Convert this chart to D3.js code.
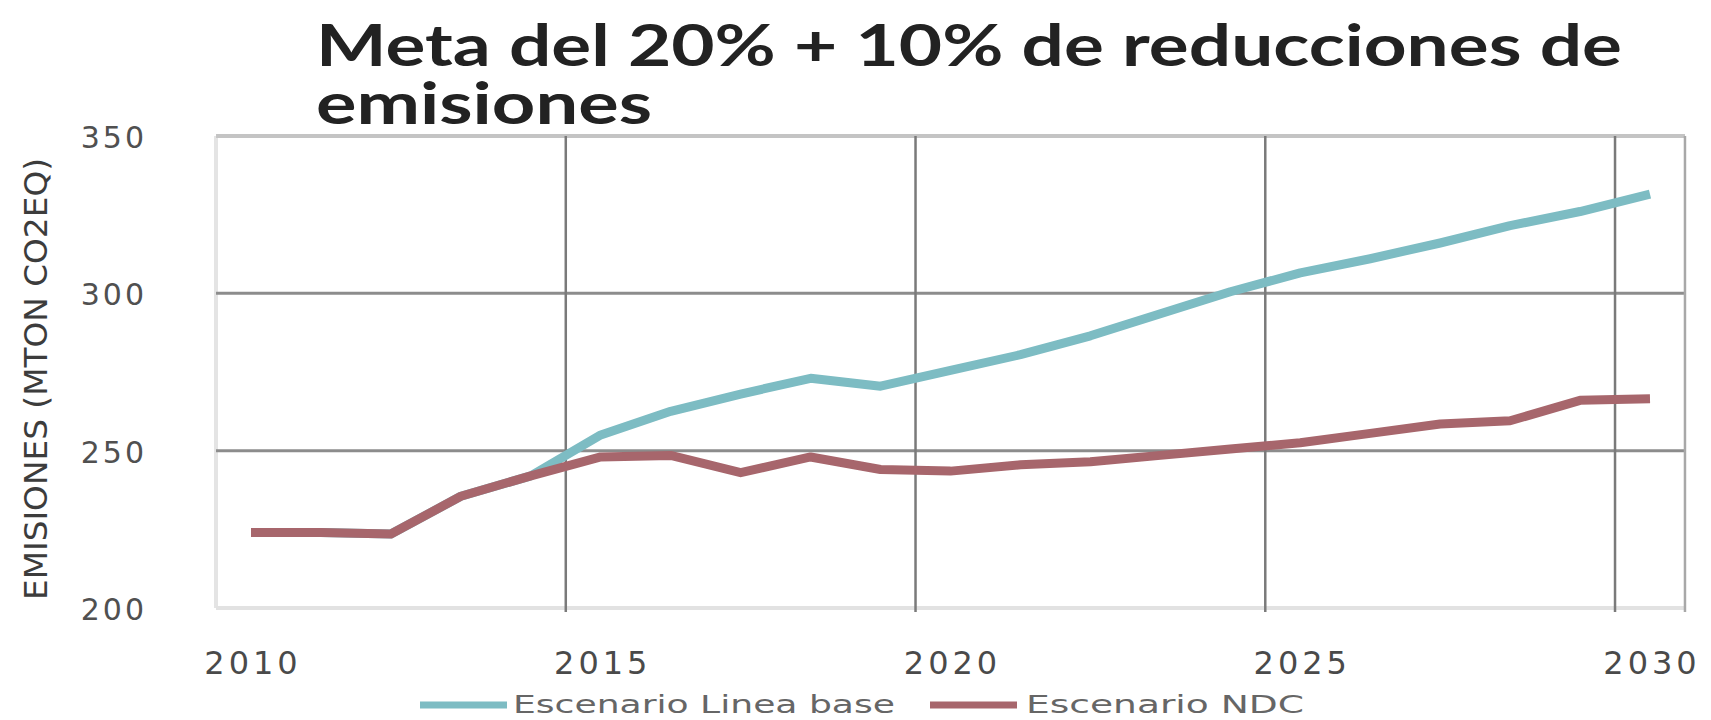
<!DOCTYPE html>
<html>
<head>
<meta charset="utf-8">
<script src="https://cdnjs.cloudflare.com/ajax/libs/d3/7.8.5/d3.min.js"></script>
<style>
  body { margin: 0; background: #fff; }
  text { font-family: "DejaVu Sans", sans-serif; }
</style>
</head>
<body>
<svg id="chart" width="1711" height="720"></svg>
<script>
// years on the category axis
var years = d3.range(2010, 2031);
// baseline scenario, Mton CO2eq
var lineaBase = [224, 224, 223.5, 235.5, 242, 255, 262.5, 268, 273, 270.5, 275.5, 280.5, 286.5, 293.5, 300.5, 306.5, 311, 316, 321.5, 326, 331.5];
// NDC scenario, Mton CO2eq
var ndc = [224, 224, 223.5, 235.5, 242, 248, 248.5, 243, 248, 244, 243.5, 245.5, 246.5, 248.5, 250.5, 252.5, 255.5, 258.5, 259.5, 266, 266.5];
// tick labels
var yTicks = [200, 250, 300, 350];
var xTicks = [2010, 2015, 2020, 2025, 2030];
var seriesNames = ["Escenario Linea base", "Escenario NDC"];

var svg = d3.select("#chart");
svg.append("rect").attr("width", 1711).attr("height", 720).attr("fill", "#fff");

// scales: one point per year, gridlines sit between categories
var x = d3.scalePoint().domain(years).range([251, 1650]);
var step = x.step();
var y = d3.scaleLinear().domain([200, 350]).range([608, 136]);
var left = x(2010) - step / 2, right = x(2030) + step / 2;

var grid = svg.append("g").attr("class", "grid");

// plot frame, light grey on the left/bottom/top
grid.append("line").attr("x1", left).attr("x2", left).attr("y1", y(350)).attr("y2", y(200))
    .attr("stroke", "#e4e4e4").attr("stroke-width", 4);
grid.append("line").attr("x1", left).attr("x2", right).attr("y1", y(200)).attr("y2", y(200))
    .attr("stroke", "#e2e2e2").attr("stroke-width", 4);
grid.append("line").attr("x1", left).attr("x2", right).attr("y1", y(350)).attr("y2", y(350))
    .attr("stroke", "#c4c4c4").attr("stroke-width", 4);

// horizontal gridlines
grid.selectAll("line.h").data([250, 300]).enter().append("line")
    .attr("class", "h")
    .attr("x1", left).attr("x2", right)
    .attr("y1", function(d){ return y(d); }).attr("y2", function(d){ return y(d); })
    .attr("stroke", "#8c8c8c").attr("stroke-width", 3);

// vertical gridlines, before each labelled year plus the right edge
var vLines = [2015, 2020, 2025, 2030].map(function(d){ return x(d) - step / 2; }).concat([right]);
grid.selectAll("line.v").data(vLines).enter().append("line")
    .attr("class", "v")
    .attr("x1", function(d){ return d; }).attr("x2", function(d){ return d; })
    .attr("y1", y(350)).attr("y2", y(200) + 4)
    .attr("stroke", function(d, i){ return i == 4 ? "#a8a8a8" : "#7a7a7a"; })
    .attr("stroke-width", 2.5);

// y tick labels
svg.append("g").selectAll("text").data(yTicks).enter().append("text")
    .attr("x", 147)
    .attr("y", function(d){ return y(d) + 12; })
    .attr("text-anchor", "end")
    .attr("font-size", 30)
    .attr("letter-spacing", 3)
    .attr("fill", "#505050")
    .text(function(d){ return d; });

// x tick labels
svg.append("g").selectAll("text").data(xTicks).enter().append("text")
    .attr("x", function(d){ return x(d) + 2; })
    .attr("y", 674)
    .attr("text-anchor", "middle")
    .attr("font-size", 32)
    .attr("letter-spacing", 4)
    .attr("fill", "#4a4a4a")
    .text(function(d){ return d; });

// y axis title
svg.append("text")
    .attr("transform", "translate(47,379) rotate(-90)")
    .attr("text-anchor", "middle")
    .attr("font-size", 32)
    .attr("textLength", 442)
    .attr("lengthAdjust", "spacingAndGlyphs")
    .attr("fill", "#3c3c3c")
    .text("EMISIONES (MTON CO2EQ)");

// chart title, two lines
var title = svg.append("g").attr("font-weight", "bold").attr("font-size", 58).attr("fill", "#222");
title.append("text").attr("x", 316).attr("y", 66)
    .attr("textLength", 1306).attr("lengthAdjust", "spacingAndGlyphs")
    .style("font-family", "Lato, 'Open Sans', sans-serif")
    .text("Meta del 20% + 10% de reducciones de");
title.append("text").attr("x", 316).attr("y", 124)
    .attr("textLength", 336).attr("lengthAdjust", "spacingAndGlyphs")
    .style("font-family", "Lato, 'Open Sans', sans-serif")
    .text("emisiones");

// the two series, NDC drawn last so it covers the shared start
var colors = ["#7dbcc3", "#a7666c"];
var line = d3.line()
    .x(function(d, i){ return x(years[i]); })
    .y(function(d){ return y(d); });

[lineaBase, ndc].forEach(function(series, k){
    svg.append("path")
        .datum(series)
        .attr("d", line)
        .attr("fill", "none")
        .attr("stroke", colors[k])
        .attr("stroke-width", 9)
        .attr("stroke-linejoin", "round");
});

// legend at the bottom
var legendX = [[420, 513, 382], [930, 1026, 278]];
var legend = svg.append("g");
seriesNames.forEach(function(name, k){
    legend.append("line")
        .attr("x1", legendX[k][0]).attr("x2", legendX[k][0] + 87)
        .attr("y1", 705).attr("y2", 705)
        .attr("stroke", colors[k]).attr("stroke-width", 7);
    legend.append("text")
        .attr("x", legendX[k][1]).attr("y", 713)
        .attr("font-size", 25)
        .attr("textLength", legendX[k][2])
        .attr("lengthAdjust", "spacingAndGlyphs")
        .attr("fill", "#666")
        .text(name);
});
</script>
</body>
</html>
